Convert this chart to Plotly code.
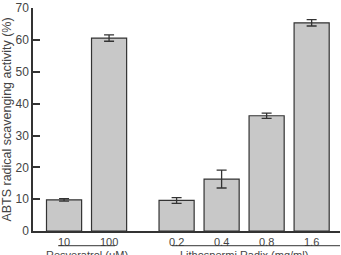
import plotly.graph_objects as go

categories = ["10", "100", "0.2", "0.4", "0.8", "1.6"]
positions = [0, 1, 2.5, 3.5, 4.5, 5.5]
values = [9.8, 60.6, 9.6, 16.3, 36.2, 65.4]
errors = [0.4, 1.0, 0.9, 2.8, 0.8, 1.0]
group_labels = ["Resveratrol (μM)", "Lithospermi Radix (mg/ml)"]

dark = "#333333"
fig = go.Figure()
fig.add_trace(go.Bar(
    x=positions, y=values, width=0.78,
    marker=dict(color="#c8c8c8", line=dict(color=dark, width=1.2)),
    error_y=dict(type="data", array=errors, color=dark, thickness=1.3, width=5),
))

fig.update_layout(
    width=341, height=255,
    margin=dict(l=33, r=1, t=5, b=24),
    plot_bgcolor="white", paper_bgcolor="white",
    showlegend=False,
    font=dict(family="Liberation Sans, Arial, sans-serif", size=11, color=dark),
    xaxis=dict(range=[-0.69, 6.13], tickvals=positions, ticktext=categories,
               showline=True, linecolor=dark, linewidth=1.5, ticks="",
               showgrid=False, zeroline=False, tickfont=dict(size=11, color="#444")),
    yaxis=dict(range=[0, 70.05], tickvals=[0, 10, 20, 30, 40, 50, 60, 70],
               showline=True, linecolor=dark, linewidth=1.5, ticks="inside",
               ticklen=7, tickwidth=1.5, tickcolor=dark, showgrid=False, zeroline=False,
               tickfont=dict(size=12, color="#444"), ticklabeloverflow="allow",
               title=dict(text="ABTS radical scavenging activity (%)", standoff=2,
                          font=dict(size=12.5, color="#444"))),
)

groups = [(0, 1), (2.5, 5.5)]
line_extents = [(-0.13, 1.13), (2.4, 6.13)]
for (a, b), (la, lb), lab in zip(groups, line_extents, group_labels):
    fig.add_shape(type="line", xref="x", yref="paper", x0=la, x1=lb,
                  y0=-0.066, y1=-0.066, line=dict(color=dark, width=1))
    fig.add_annotation(x=(a + b) / 2, xref="x", y=-0.07, yref="paper",
                       text=lab, showarrow=False, yanchor="top",
                       font=dict(size=11, color="#444"))

fig.write_html("out.html")
